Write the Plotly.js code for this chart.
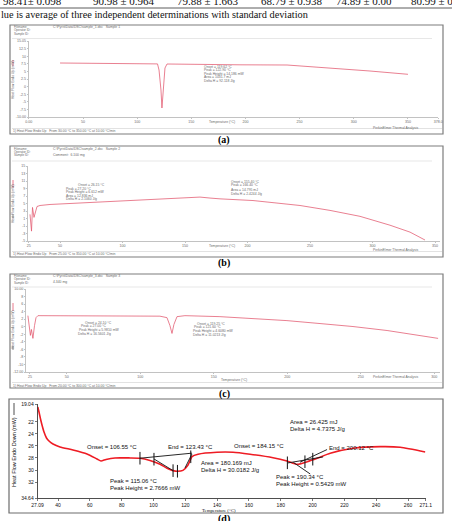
<!DOCTYPE html>
<html>
<head>
<meta charset="utf-8">
<script src="https://cdn.plot.ly/plotly-3.0.1.min.js"></script>
<style>
  html, body { margin: 0; padding: 0; background: #fff; }
  #chart { width: 452px; height: 521px; }
</style>
</head>
<body>
<div id="chart"></div>
<script>
// ---------------- data ----------------
// last row of the yield table above the thermograms
const tableRow = ['98.41± 0.098', '90.98 ± 0.964', '79.88 ± 1.663', '68.79 ± 0.938', '74.89 ± 0.00', '80.99 ± 0.75'];
const tableNote = 'lue is average of three independent determinations with standard deviation';

// (a) DSC thermogram
const tempA = [28.8, 65.7, 111.9, 118.8, 120.2, 122.0, 122.9, 124.3, 125.7, 127.6, 158.0, 195.0, 238.4, 284.6, 315.0, 350.1];
const flowA = [7.80, 7.63, 7.63, 7.50, 5.49, -1.10, -7.03, -1.10, 6.15, 7.47, 7.30, 7.20, 7.14, 6.05, 5.16, 4.07];
const peakA = {onset: 119.62, peak: 122.9, height: 14.186, area: 1031.7, dh: 92.118};

// (b) DSC thermogram
const tempB = [26.0, 27.2, 28.0, 29.2, 31.6, 34.0, 42.0, 58.0, 82.0, 122.0, 150.8, 162.0, 170.0, 178.0, 204.4, 222.0, 242.0, 266.0, 290.0, 314.0, 330.0, 342.0];
const flowB = [2.10, -2.37, 3.95, 1.30, 4.20, 4.47, 4.74, 5.00, 5.53, 6.18, 6.58, 6.71, 6.45, 6.24, 5.79, 5.13, 4.47, 3.16, 1.58, -0.79, -2.63, -4.74];
const peakB1 = {onset: 26.15, peak: 27.2, height: 6.612, area: 12.836, dh: 2.106};
const peakB2 = {onset: 155.4, peak: 166.4, area: 14.795, dh: 2.4244};

// (c) DSC thermogram
const tempC = [23.6, 24.66, 25.3, 26.0, 27.0, 28.1, 29.1, 30.4, 59.0, 113.4, 118.2, 120.2, 121.6, 122.9, 125.0, 130.4, 154.2, 176.6, 199.8, 222.3, 244.7, 267.9, 290.3, 302.6];
const flowC = [2.93, -0.20, -2.30, -0.73, -3.09, 0.31, 2.40, 2.93, 2.93, 2.80, 2.40, 0.31, -1.78, 0.58, 2.67, 2.93, 2.67, 2.15, 1.62, 0.84, 0.05, -1.00, -2.30, -3.09];
const peakC1 = {onset: 24.1, peak: 27.0, height: 5.981, dh: 16.5601};
const peakC2 = {onset: 119.25, peak: 121.6, height: 4.608, dh: 11.0213};

// (d) DSC thermogram (heat flow, endo down)
const tempD = [27.28, 28.03, 28.98, 29.92, 31.18, 32.75, 34.32, 36.83, 41.23, 49.40, 58.20, 64.49, 67.00, 70.15, 75.80, 85.23, 91.52, 97.80, 104.1, 108.5, 112.3, 115.06, 118.5, 121.7, 124.2, 128.0, 139.9, 150.0, 160.7, 175.1, 183.9, 190.34, 196.6, 202.9, 211.1, 225.5, 242.5, 255.1, 270.8];
const flowD = [19.54, 20.37, 21.53, 22.52, 23.68, 24.68, 25.18, 25.67, 26.17, 26.67, 27.33, 28.16, 28.49, 28.24, 27.99, 27.99, 28.04, 28.41, 29.04, 29.70, 30.10, 30.20, 30.05, 29.16, 27.78, 27.38, 27.05, 27.05, 27.38, 27.95, 28.49, 29.05, 28.61, 28.04, 27.22, 26.39, 26.12, 26.22, 27.00];
// integration baselines, tangents and event markers
const baseD1T = [91.5, 124.2],  baseD1V = [28.04, 27.20];
const tanD1aT = [100.3, 112.3], tanD1aV = [28.16, 30.10];
const tanD1bT = [119.8, 124.2], tanD1bV = [29.65, 27.33];
const markD1T = [91.5, 100.3, 112.3, 115.06, 123.43];
const markD1V = [28.04, 28.20, 30.10, 30.20, 27.80];
const baseD2T = [184.5, 206.6], baseD2V = [28.82, 27.82];
const ptrPeakD2T = [188.0, 198.5], ptrPeakD2V = [28.75, 30.65];
const ptrEndD2T = [192.1, 209.1],  ptrEndD2V = [28.70, 26.60];
const markD2T = [184.15, 195.2, 200.12];
const markD2V = [28.80, 28.62, 28.20];
const eventsD = {onset1: 106.55, end1: 123.43, peak1: 115.06, height1: 2.7666, area1: 180.169, dh1: 30.0182,
                 onset2: 184.15, end2: 200.12, peak2: 190.34, height2: 0.5429, area2: 26.425, dh2: 4.7375};

// tick values / labels
const ticksAx = [0, 50, 100, 150, 200, 250, 300, 350, 378];
const ticksAxText = ['0.00', '50', '100', '150', '200', '250', '300', '350', '378.0'];
const ticksAy = [-10, -7.5, -5, -2.5, 0, 2.5, 5, 7.5, 10, 12.5, 15.05];
const ticksAyText = ['-10.00', '-7.5', '-5', '-2.5', '0', '2.5', '5', '7.5', '10', '12.5', '15.05'];
const ticksBx = [25, 50, 100, 150, 200, 250, 300, 350];
const ticksBy = [-5, -3, -1, 1, 3, 5, 7, 9, 11, 13, 15];
const ticksCx = [25, 50, 100, 150, 200, 250, 300];
const ticksCy = [-12, -10, -8, -6, -4, -2, 0, 2, 4, 6, 8, 10];
const ticksCyText = ['-12.00', '-10', '-8', '-6', '-4', '-2', '0', '2', '4', '6', '8', '10.00'];
const ticksDx = [27.09, 40, 60, 80, 100, 120, 140, 160, 180, 200, 220, 240, 260, 271.1];
const ticksDy = [19.04, 22, 24, 26, 28, 30, 32, 34.64];

// ---------------- helpers ----------------
const W = 452, H = 521;
const fx = p => p / W;          // pixel column -> paper x
const fy = p => 1 - p / H;      // pixel row -> paper y
const SANS = 'Arial, "Liberation Sans", sans-serif';
const SERIF = '"Times New Roman", "Liberation Serif", serif';

function note(x, y, text, size, extra) {
  return Object.assign({
    xref: 'paper', yref: 'paper', x: fx(x), y: fy(y), text: text, showarrow: false,
    xanchor: 'left', yanchor: 'middle', borderpad: 0,
    font: {family: SANS, size: size, color: '#000'}
  }, extra || {});
}
function rect(x0, y0, x1, y1, color, width) {
  return {type: 'rect', xref: 'paper', yref: 'paper', x0: fx(x0), x1: fx(x1), y0: fy(y1), y1: fy(y0),
          line: {color: color, width: width}, fillcolor: 'rgba(0,0,0,0)'};
}
function hline(x0, x1, y, color, width) {
  return {type: 'line', xref: 'paper', yref: 'paper', x0: fx(x0), x1: fx(x1), y0: fy(y), y1: fy(y),
          line: {color: color, width: width}};
}
function vline(x, y0, y1, color, width) {
  return {type: 'line', xref: 'paper', yref: 'paper', x0: fx(x), x1: fx(x), y0: fy(y0), y1: fy(y1),
          line: {color: color, width: width}};
}
function xAxis(p0, p1, range, anchor, vals, texts, st) {
  return {domain: [fx(p0), fx(p1)], range: range, anchor: anchor, tickmode: 'array', tickvals: vals, ticktext: texts,
          showline: true, linecolor: st.line, linewidth: st.lw, ticks: 'outside', ticklen: st.tl, tickwidth: 0.6,
          tickcolor: st.line, tickfont: {family: SANS, size: st.fs, color: st.tc},
          showgrid: false, zeroline: false, fixedrange: true};
}
function yAxis(top, bottom, range, anchor, vals, texts, st) {
  return {domain: [fy(bottom), fy(top)], range: range, anchor: anchor, tickmode: 'array', tickvals: vals, ticktext: texts,
          showline: true, linecolor: st.line, linewidth: st.lw, ticks: 'outside', ticklen: st.tl, tickwidth: 0.6,
          tickcolor: st.line, tickfont: {family: SANS, size: st.fs, color: st.tc},
          showgrid: false, zeroline: false, fixedrange: true};
}
const fmt = (v, d) => v.toFixed(d);

// axis styles: small instrument print-outs (a-c), exported plot (d)
const stSmall = {line: '#9a9a9a', lw: 0.6, tl: 1.5, fs: 3.6, tc: '#6a6a6a'};
const stD = {line: '#222', lw: 0.8, tl: 2, fs: 5, tc: '#111'};

// ---------------- traces ----------------
const pink = '#e2586e';
const traces = [
  {x: tempA, y: flowA, xaxis: 'x', yaxis: 'y', mode: 'lines', line: {color: pink, width: 0.9}, opacity: 0.85, hoverinfo: 'skip'},
  {x: tempB, y: flowB, xaxis: 'x2', yaxis: 'y2', mode: 'lines', line: {color: pink, width: 0.9}, opacity: 0.85, hoverinfo: 'skip'},
  {x: tempC, y: flowC, xaxis: 'x3', yaxis: 'y3', mode: 'lines', line: {color: pink, width: 0.9}, opacity: 0.85, hoverinfo: 'skip'},
  {x: tempD, y: flowD, xaxis: 'x4', yaxis: 'y4', mode: 'lines', line: {color: '#ee1c24', width: 1.6, shape: 'spline', smoothing: 0.6}, hoverinfo: 'skip'}
];
const blackLine = (xs, ys) => ({x: xs, y: ys, xaxis: 'x4', yaxis: 'y4', mode: 'lines', line: {color: '#111', width: 0.9}, hoverinfo: 'skip'});
traces.push(blackLine(baseD1T, baseD1V), blackLine(tanD1aT, tanD1aV), blackLine(tanD1bT, tanD1bV),
            blackLine(baseD2T, baseD2V), blackLine(ptrPeakD2T, ptrPeakD2V), blackLine(ptrEndD2T, ptrEndD2V));
const markers = (xs, ys) => ({x: xs, y: ys, xaxis: 'x4', yaxis: 'y4', mode: 'markers',
  marker: {symbol: 'line-ns', size: 9, line: {color: '#111', width: 1}}, hoverinfo: 'skip'});
traces.push(markers(markD1T, markD1V), markers(markD2T, markD2V));

// ---------------- annotations ----------------
const ann = [];
// table row (cut at the top edge) and its footnote
const rowX = [2, 92, 176, 260, 335, 410];
tableRow.forEach((t, i) => ann.push(note(rowX[i], 1.5, t, 11, {font: {family: SERIF, size: 11, color: '#111'}})));
ann.push(note(0, 14.5, tableNote, 10.3, {font: {family: SERIF, size: 10.3, color: '#111'}}));

const tiny = 3.4, grey = '#6a6a6a';
function tinyNote(x, y, t, extra) {
  return note(x, y, t, tiny, Object.assign({font: {family: SANS, size: tiny, color: grey}}, extra || {}));
}
function header(y0, lines, path, weight) {
  lines.forEach((t, i) => ann.push(tinyNote(13, y0 + i * 3.4, t, {font: {family: SANS, size: 3, color: grey}})));
  ann.push(tinyNote(52, y0, path));
  if (weight) ann.push(tinyNote(52, y0 + 6, weight));
}
function panelFurniture(yTitleY, tX, tY, footY, footText, stampY) {
  ann.push(tinyNote(13, yTitleY, 'Heat Flow Endo Up (mW)', {textangle: -90, xanchor: 'center'}));
  ann.push(tinyNote(tX, tY, 'Temperature (°C)', {xanchor: 'center'}));
  ann.push(tinyNote(12, footY, footText));
  ann.push(tinyNote(372, stampY, 'PerkinElmer Thermal Analysis'));
}

// (a)
header(27, ['Filename:', 'Operator ID:', 'Sample ID:'], 'C:\\Pyris\\Data\\DSC\\sample_1.dsc   Sample 1');
panelFurniture(80, 222, 121.5, 131, '1) Heat Flow Endo Up   From 30.00 °C to 350.00 °C at 10.00 °C/min', 128);
[['Onset = ' + fmt(peakA.onset, 2) + ' °C', 67], ['Peak = ' + fmt(peakA.peak, 2) + ' °C', 70.3],
 ['Peak Height = ' + fmt(peakA.height, 3) + ' mW', 73.6], ['Area = ' + fmt(peakA.area, 1) + ' mJ', 77.4],
 ['Delta H = ' + fmt(peakA.dh, 3) + ' J/g', 80.7]].forEach(r => ann.push(tinyNote(203, r[1], r[0])));

// (b)
header(148.5, ['Filename:', 'Operator ID:', 'Sample ID:'], 'C:\\Pyris\\Data\\DSC\\sample_2.dsc   Sample 2', 'Comment:  6.100 mg');
panelFurniture(204, 222, 246, 253.5, '1) Heat Flow Endo Up   From 25.00 °C to 350.00 °C at 10.00 °C/min', 250);
[['Onset = ' + fmt(peakB1.onset, 2) + ' °C', 185, 77], ['Peak = ' + fmt(peakB1.peak, 2) + ' °C', 188.6, 65],
 ['Peak Height = ' + fmt(peakB1.height, 3) + ' mW', 192.2, 65], ['Area = ' + fmt(peakB1.area, 3) + ' mJ', 195.8, 65],
 ['Delta H = ' + fmt(peakB1.dh, 4) + ' J/g', 199.4, 65]].forEach(r => ann.push(tinyNote(r[2], r[1], r[0])));
[['Onset = ' + fmt(peakB2.onset, 2) + ' °C', 181.5], ['Peak = ' + fmt(peakB2.peak, 2) + ' °C', 185],
 ['Area = ' + fmt(peakB2.area, 3) + ' mJ', 189.5], ['Delta H = ' + fmt(peakB2.dh, 4) + ' J/g', 193.5]]
  .forEach(r => ann.push(tinyNote(230, r[1], r[0])));

// (c)
header(276, ['Filename:', 'Operator ID:', 'Sample ID:'], 'C:\\Pyris\\Data\\DSC\\sample_3.dsc   Sample 3', '4.340 mg');
panelFurniture(330, 234, 379.5, 385.5, '1) Heat Flow Endo Up   From 20.00 °C to 300.00 °C at 10.00 °C/min', 377);
[['Onset = ' + fmt(peakC1.onset, 2) + ' °C', 322.5, 84], ['Peak = ' + fmt(peakC1.peak, 2) + ' °C', 326, 80],
 ['Peak Height = ' + fmt(peakC1.height, 4) + ' mW', 329.5, 78], ['Delta H = ' + fmt(peakC1.dh, 4) + ' J/g', 333.5, 77]]
  .forEach(r => ann.push(tinyNote(r[2], r[1], r[0])));
[['Onset = ' + fmt(peakC2.onset, 2) + ' °C', 323.5, 196], ['Peak = ' + fmt(peakC2.peak, 2) + ' °C', 327, 193],
 ['Peak Height = ' + fmt(peakC2.height, 4) + ' mW', 330.5, 192], ['Delta H = ' + fmt(peakC2.dh, 4) + ' J/g', 334.5, 192]]
  .forEach(r => ann.push(tinyNote(r[2], r[1], r[0])));

// (d)
const dFont = {family: SANS, size: 6, color: '#111'};
const dNote = (x, y, t) => note(x, y, t, 6, {font: dFont});
ann.push(dNote(289, 421.5, 'Area = ' + fmt(eventsD.area2, 3) + ' mJ'));
ann.push(dNote(289, 429, 'Delta H = ' + fmt(eventsD.dh2, 4) + ' J/g'));
ann.push(dNote(86, 447, 'Onset = ' + fmt(eventsD.onset1, 2) + ' °C'));
ann.push(dNote(167, 447, 'End = ' + fmt(eventsD.end1, 2) + ' °C'));
ann.push(dNote(233, 446, 'Onset = ' + fmt(eventsD.onset2, 2) + ' °C'));
ann.push(dNote(328, 447.5, 'End = ' + fmt(eventsD.end2, 2) + ' °C'));
ann.push(dNote(200, 463, 'Area = ' + fmt(eventsD.area1, 3) + ' mJ'));
ann.push(dNote(200, 470, 'Delta H = ' + fmt(eventsD.dh1, 4) + ' J/g'));
ann.push(dNote(109, 481, 'Peak = ' + fmt(eventsD.peak1, 2) + ' °C'));
ann.push(dNote(109, 488, 'Peak Height = ' + fmt(eventsD.height1, 4) + ' mW'));
ann.push(dNote(275, 477, 'Peak = ' + fmt(eventsD.peak2, 2) + ' °C'));
ann.push(dNote(275, 484, 'Peak Height = ' + fmt(eventsD.height2, 4) + ' mW'));
ann.push(note(14, 452, 'Heat Flow Endo Down (mW)', 5.5, {textangle: -90, xanchor: 'center', font: {family: SANS, size: 5.5, color: '#111'}}));
ann.push(note(219, 510.5, 'Temperature (°C)', 4.8, {xanchor: 'center', font: {family: SERIF, size: 4.8, color: '#111'}}));

// panel captions
['(a)', '(b)', '(c)', '(d)'].forEach((t, i) => ann.push(note(224, [140, 263, 394, 518.5][i], '<b>' + t + '</b>', 10,
  {xanchor: 'center', font: {family: SERIF, size: 10, color: '#000'}})));

// ---------------- frames and rules ----------------
const shapes = [
  hline(0, 452, 8, '#333', 0.8),
  // (a)
  rect(10, 25, 443, 134, '#7d7d7d', 1.2), hline(12, 432, 38.5, '#d6d6d6', 0.6), hline(12, 442, 128.5, '#cfcfcf', 0.6),
  vline(13, 60, 66, pink, 0.8),
  // (b)
  rect(10, 146, 443, 257, '#7d7d7d', 1.2), hline(12, 432, 161, '#d6d6d6', 0.6), hline(12, 442, 251.5, '#cfcfcf', 0.6),
  vline(13, 180, 188, pink, 0.8), vline(13, 214, 218, '#444', 0.6),
  // (c)
  rect(10, 274, 443, 388, '#7d7d7d', 1.2), hline(12, 432, 287, '#d6d6d6', 0.6), hline(12, 442, 382.5, '#cfcfcf', 0.6),
  vline(13, 303, 311, pink, 0.8), vline(13, 346, 350, '#444', 0.6),
  // (d)
  rect(9, 399, 443, 513, '#6d6d6d', 1.2), vline(14, 403, 415, '#222', 0.8)
];

// ---------------- layout ----------------
const layout = {
  width: W, height: H,
  margin: {l: 0, r: 0, t: 0, b: 0, pad: 0, autoexpand: false},
  paper_bgcolor: '#ffffff', plot_bgcolor: 'rgba(0,0,0,0)',
  showlegend: false,
  xaxis:  xAxis(28.85, 438.2, [0, 378], 'y', ticksAx, ticksAxText, stSmall),
  yaxis:  yAxis(41, 117, [-10, 15.05], 'x', ticksAy, ticksAyText, stSmall),
  xaxis2: xAxis(28, 440, [24.4, 354], 'y2', ticksBx, ticksBx.map(String), stSmall),
  yaxis2: yAxis(166, 241, [-5, 15], 'x2', ticksBy, ticksBy.map(String), stSmall),
  xaxis3: xAxis(26, 440, [22.3, 303.9], 'y3', ticksCx, ticksCx.map(String), stSmall),
  yaxis3: yAxis(289, 372, [-12, 10], 'x3', ticksCy, ticksCyText, stSmall),
  xaxis4: xAxis(37.5, 425.7, [27.09, 271.1], 'y4', ticksDx, ticksDx.map(String), stD),
  yaxis4: yAxis(404, 498, [34.64, 19.04], 'x4', ticksDy, ticksDy.map(String), stD),
  annotations: ann,
  shapes: shapes
};

Plotly.newPlot('chart', traces, layout, {staticPlot: true, displayModeBar: false});
</script>
</body>
</html>
